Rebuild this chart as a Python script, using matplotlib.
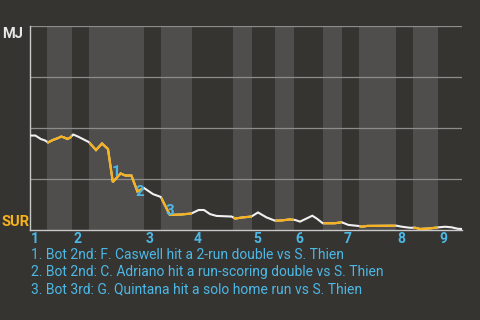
import matplotlib
matplotlib.use('Agg')
import matplotlib.pyplot as plt
from matplotlib.patches import Rectangle
import matplotlib.transforms as mtransforms

# MJ win probability (%) over the plate appearances of the game
pa = [0, 0.9, 1.8, 2.5, 3.0, 3.8, 4.7, 5.2, 5.75, 6.2, 6.7, 7.2, 8.0, 8.8, 9.8,
      11.0, 12.0, 13.0, 13.8, 15.1, 15.9, 16.9, 17.9, 19.0, 20.5, 21.8, 23.3,
      25.25, 26.9, 28.1, 29.0, 30.0, 31.1, 33.6, 34.2, 35.25, 36.9, 38.0, 39.4,
      40.8, 42.0, 43.3, 44.2, 45.0, 47.05, 47.8, 48.8, 50.8, 51.95, 53.05, 54.7,
      55.3, 56.2, 60.0, 61.1, 62.0, 63.3, 64.2, 65.0, 66.7, 68.05, 69.2, 70.3,
      71.3, 72.0]
wp = [46.3, 46.3, 44.6, 43.9, 42.9, 44.1, 45.1, 45.8, 45.3, 44.6, 45.3, 46.8,
      45.8, 44.6, 43.1, 39.2, 42.4, 39.7, 23.5, 27.7, 26.7, 26.7, 18.9, 20.6,
      17.6, 16.2, 7.4, 7.6, 8.1, 9.8, 9.8, 7.8, 6.9, 6.6, 5.6, 6.1, 6.6, 8.6,
      6.2, 4.6, 4.7, 5.2, 4.9, 4.1, 7.0, 5.6, 3.3, 3.3, 3.8, 2.5, 2.0, 1.6, 2.0,
      2.1, 2.1, 1.6, 1.1, 1.1, 0.5, 0.8, 1.3, 1.6, 1.3, 0.6, 0.5]

# half inning edges (top 1, bot 1, top 2, ...)
half_edges = [0, 2.83, 7, 9.83, 19, 21.83, 27, 33.83, 37, 40.83, 44, 48.83,
              52, 54.83, 61, 63.83, 68, 72]
innings = ['1', '2', '3', '4', '5', '6', '7', '8', '9']

# key plays
event_num = ['1', '2', '3']
event_x = [14.3, 18.3, 23.3]
event_y = [28.4, 18.6, 9.3]
event_txt = ['1. Bot 2nd: F. Caswell hit a 2-run double vs S. Thien',
             '2. Bot 2nd: C. Adriano hit a run-scoring double vs S. Thien',
             '3. Bot 3rd: G. Quintana hit a solo home run vs S. Thien']

bg = '#363431'
stripe = '#4f4e4c'
orange = '#f7b21b'
blue = '#4cb8e6'
font = ['Roboto', 'DejaVu Sans']

fig = plt.figure(figsize=(4.8, 3.2), dpi=100, facecolor=bg)
ax = fig.add_axes([30/480, 90/320, 432/480, 204/320], facecolor=bg)

for i in range(1, len(half_edges) - 1, 2):
    ax.axvspan(half_edges[i], half_edges[i+1], color=stripe, lw=0, zorder=0)

for g in [25, 50, 75, 100]:
    ax.axhline(g, color='#8c8c8a', lw=0.9, zorder=1)

ax.plot(pa, wp, color='#f0f0f0', lw=1.5, zorder=3, solid_joinstyle='miter')
for i in range(1, len(half_edges) - 1, 2):
    line, = ax.plot(pa, wp, color=orange, lw=1.6, zorder=4,
                    solid_joinstyle='miter')
    clip = Rectangle((half_edges[i], -10), half_edges[i+1] - half_edges[i],
                     120, transform=ax.transData)
    line.set_clip_path(clip)

for n, x, y in zip(event_num, event_x, event_y):
    ax.text(x, y, n, color=blue, fontsize=11, fontweight='bold', family=font,
            ha='center', va='center', zorder=5)

ax.set_xlim(0, 72)
ax.set_ylim(0, 100)
ax.set_xticks([])
ax.set_yticks([])
for s in ['top', 'right']:
    ax.spines[s].set_visible(False)
ax.spines['left'].set_color('#c8c8c8')
ax.spines['bottom'].set_color('#c8c8c8')
ax.spines['left'].set_linewidth(1)
ax.spines['bottom'].set_linewidth(1)

trans = mtransforms.blended_transform_factory(ax.transData, fig.transFigure)
for lab, x in zip(innings, half_edges[0::2]):
    ax.text(x + 0.2, 1 - 232/320, lab, transform=trans, color=blue,
            fontsize=10, fontweight='bold', family=font, ha='left', va='top')

fig.text(2/480, 1 - 27/320, 'MJ', color='#e8e8e8', fontsize=10.5,
         fontweight='bold', family=font, ha='left', va='top')
fig.text(2/480, 1 - 226/320, 'SUR', color=orange, fontsize=10.5,
         fontweight='bold', family=font, ha='left', va='baseline')

for k, t in enumerate(event_txt):
    fig.text(31/480, 1 - (259 + 17*k)/320, t, color=blue, fontsize=10,
             family=font, ha='left', va='baseline')

fig.savefig('out.png', dpi=100, facecolor=bg)
